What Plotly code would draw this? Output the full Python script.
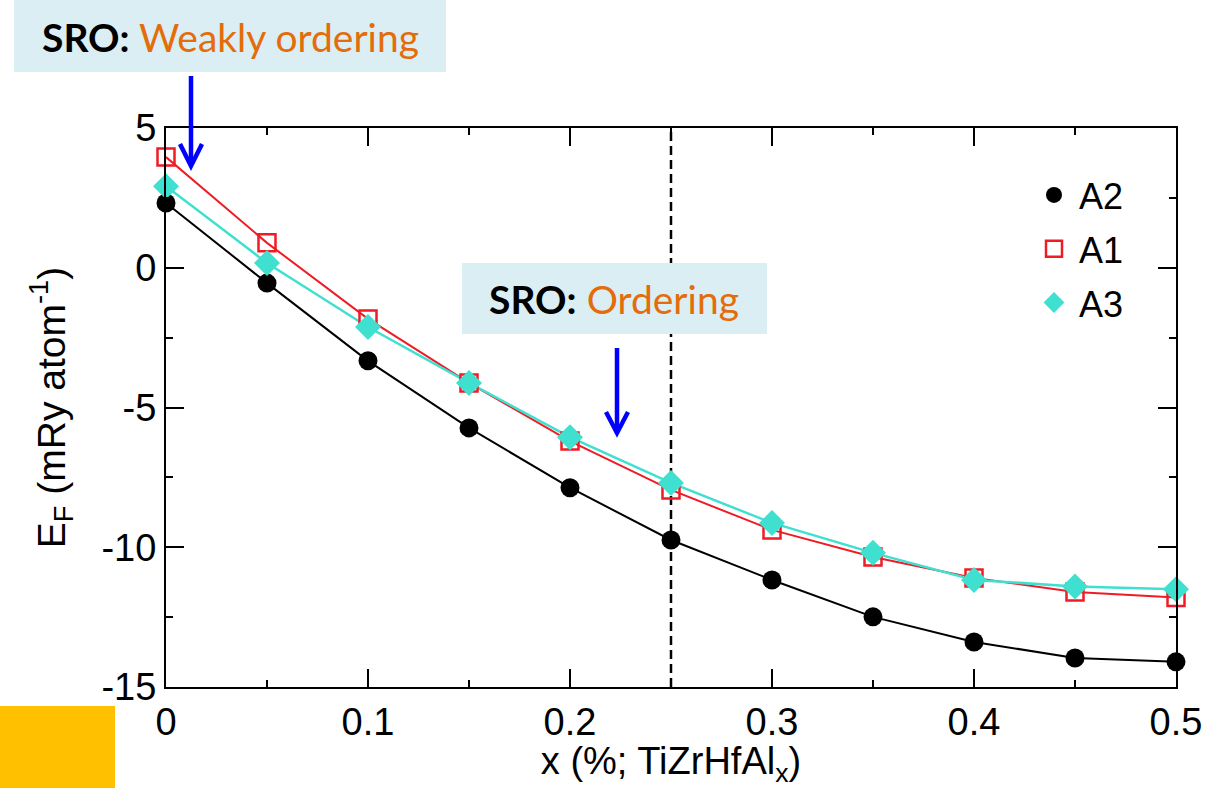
import plotly.graph_objects as go

# Composition x in TiZrHfAl_x
x_vals = [0.0, 0.05, 0.10, 0.15, 0.20, 0.25, 0.30, 0.35, 0.40, 0.45, 0.50]

# Formation energy E_F (mRy/atom) for each lattice
ef_a2 = [2.32, -0.55, -3.33, -5.73, -7.87, -9.74, -11.17, -12.49, -13.39, -13.96, -14.10]
ef_a1 = [3.96, 0.89, -1.83, -4.12, -6.20, -7.95, -9.38, -10.35, -11.10, -11.60, -11.80]
ef_a3 = [2.92, 0.17, -2.12, -4.12, -6.06, -7.70, -9.13, -10.20, -11.17, -11.40, -11.50]

x_ticks = [0, 0.1, 0.2, 0.3, 0.4, 0.5]
x_tick_text = ["0", "0.1", "0.2", "0.3", "0.4", "0.5"]
y_ticks = [5, 0, -5, -10, -15]
y_tick_text = ["5", "0", "-5", "-10", "-15"]

W, H = 1224, 788
L, R, T, B = 166, 48, 128, 101
PW, PH = W - L - R, H - T - B


def px(xp):
    return (xp - L) / PW


def py(yp):
    return (H - B - yp) / PH


RED = "#EE1C25"
CYAN = "#40E0D0"
BLUE = "#0000FF"
ORANGE_TXT = "#E46C0A"
BOX = "#DAEEF3"

fig = go.Figure()

series = [
    ("A2", ef_a2, "black", dict(symbol="circle", size=19, color="black"), 2),
    ("A1", ef_a1, RED, dict(symbol="square-open", size=17, color=RED, line=dict(width=2.5, color=RED)), 2),
    ("A3", ef_a3, CYAN, dict(symbol="diamond", size=20, color=CYAN), 2.5),
]

for name, ys, col, mk, lw in series:
    fig.add_trace(go.Scatter(x=x_vals, y=ys, mode="lines", line=dict(color=col, width=lw),
                             showlegend=False, hoverinfo="skip", cliponaxis=False))
for name, ys, col, mk, lw in series:
    fig.add_trace(go.Scatter(x=x_vals, y=ys, mode="markers", marker=mk, name=name,
                             legendgroup=name, cliponaxis=False))

axis_font = dict(family="Liberation Sans, Arial", size=38, color="black")

fig.update_xaxes(
    range=[0, 0.5], tickvals=x_ticks, ticktext=x_tick_text, ticks="inside", ticklen=18,
    tickwidth=2, tickcolor="black", showline=True, linecolor="black", linewidth=2,
    mirror="allticks", showgrid=False, zeroline=False, tickfont=axis_font,
    minor=dict(ticks="inside", ticklen=7, tickwidth=2, tickcolor="black", dtick=0.05, showgrid=False),
    title=dict(text="x (%; TiZrHfAl<sub>x</sub>)",
               font=dict(family="Liberation Sans, Arial", size=38, color="black"), standoff=3),
)
fig.update_yaxes(
    range=[-15, 5], tickvals=y_ticks, ticktext=y_tick_text, ticks="inside", ticklen=18,
    tickwidth=2, tickcolor="black", showline=True, linecolor="black", linewidth=2,
    mirror="allticks", showgrid=False, zeroline=False, tickfont=axis_font,
    minor=dict(ticks="inside", ticklen=7, tickwidth=2, tickcolor="black", dtick=2.5, showgrid=False),
    title=dict(text="E<sub>F</sub> (mRy atom<sup>-1</sup>)",
               font=dict(family="Liberation Sans, Arial", size=39, color="black"), standoff=24),
)

shapes = [
    # vertical dashed guide at x = 0.25
    dict(type="line", xref="x", yref="paper", x0=0.25, x1=0.25, y0=0, y1=1,
         line=dict(color="black", width=2.5, dash="9px,5px"), layer="below"),
    # label backgrounds
    dict(type="rect", xref="paper", yref="paper", x0=px(14), x1=px(446), y0=py(72), y1=py(0),
         fillcolor=BOX, line=dict(width=0), layer="above"),
    dict(type="rect", xref="paper", yref="paper", x0=px(462), x1=px(767), y0=py(334), y1=py(263),
         fillcolor=BOX, line=dict(width=0), layer="above"),
    # corner block
    dict(type="rect", xref="paper", yref="paper", x0=px(0), x1=px(115), y0=py(788), y1=py(706),
         fillcolor="#FFC000", line=dict(width=0), layer="above"),
]

# downward arrows (shaft + open head)
for ax_, top, tip, head in [(191, 76, 166, 22), (617, 348, 433, 21)]:
    shapes.append(dict(type="line", xref="paper", yref="paper", x0=px(ax_), x1=px(ax_),
                       y0=py(top), y1=py(tip - 2), line=dict(color=BLUE, width=4.5), layer="above"))
    shapes.append(dict(type="path", xref="paper", yref="paper",
                       path=f"M {px(ax_ - 11)},{py(tip - head)} L {px(ax_)},{py(tip)} L {px(ax_ + 11)},{py(tip - head)}",
                       line=dict(color=BLUE, width=4.5), layer="above"))

fig.update_layout(shapes=shapes)

label_font = dict(family="Lato, Open Sans", size=39, color="black")
fig.add_annotation(xref="paper", yref="paper", x=px(230), y=py(37), showarrow=False,
                   text=f"<b>SRO:</b> <span style='color:{ORANGE_TXT}'>Weakly ordering</span>",
                   font=label_font, xanchor="center", yanchor="middle")
fig.add_annotation(xref="paper", yref="paper", x=px(614), y=py(299), showarrow=False,
                   text=f"<b>SRO:</b> <span style='color:{ORANGE_TXT}'>Ordering</span>",
                   font=label_font, xanchor="center", yanchor="middle")

fig.update_layout(
    width=W, height=H,
    margin=dict(l=L, r=R, t=T, b=B),
    paper_bgcolor="white", plot_bgcolor="white",
    legend=dict(x=px(1029), y=py(165), xanchor="left", yanchor="top",
                font=dict(family="Liberation Sans, Arial", size=36, color="black"),
                bgcolor="rgba(0,0,0,0)", itemwidth=40, tracegroupgap=4),
)

fig.write_html("out.html")
